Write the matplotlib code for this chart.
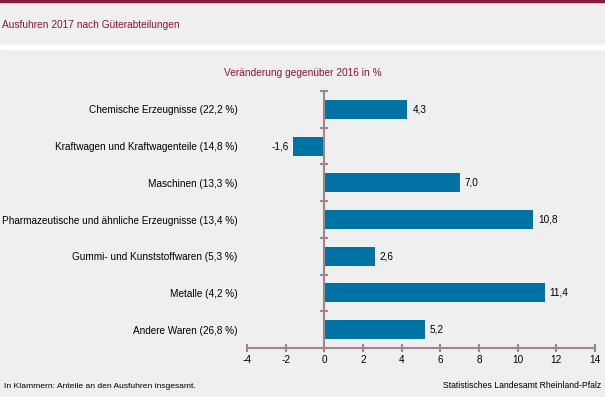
import matplotlib.pyplot as plt
from matplotlib.patches import Rectangle
from matplotlib.ticker import FixedLocator

plt.rcParams['font.family'] = ['Liberation Sans', 'DejaVu Sans']

# Daten
kategorien = ['Chemische Erzeugnisse (22,2 %)',
              'Kraftwagen und Kraftwagenteile (14,8 %)',
              'Maschinen (13,3 %)',
              'Pharmazeutische und ähnliche Erzeugnisse (13,4 %)',
              'Gummi- und Kunststoffwaren (5,3 %)',
              'Metalle (4,2 %)',
              'Andere Waren (26,8 %)']
veraenderung = [4.3, -1.6, 7.0, 10.8, 2.6, 11.4, 5.2]
x_ticks = [-4, -2, 0, 2, 4, 6, 8, 10, 12, 14]

hintergrund = '#eeefee'
balken_farbe = '#0072a3'
achsen_farbe = '#a0868c'
titel_farbe = '#8a1538'

fig = plt.figure(figsize=(6.05, 3.97), dpi=100, facecolor=hintergrund)

# Rahmen oben und weisse Trennlinie
fig.patches.append(Rectangle((0, 1 - 2 / 397), 1, 2 / 397, transform=fig.transFigure,
                             color='#8b1a3a', zorder=0))
fig.patches.append(Rectangle((0, 1 - 49 / 397), 1, 4 / 397, transform=fig.transFigure,
                             color='white', zorder=0))

fig.text(2 / 605, 1 - 25 / 397, 'Ausfuhren 2017 nach Güterabteilungen',
         color=titel_farbe, fontsize=7.3, va='center', ha='left')
fig.text(303 / 605, 1 - 73 / 397, 'Veränderung gegenüber 2016 in %',
         color=titel_farbe, fontsize=7.3, va='center', ha='center')
fig.text(4 / 605, 1 - 386 / 397, 'In Klammern: Anteile an den Ausfuhren insgesamt.',
         color='black', fontsize=6.1, va='center', ha='left')
fig.text(601 / 605, 1 - 386 / 397, 'Statistisches Landesamt Rheinland-Pfalz',
         color='black', fontsize=6.2, va='center', ha='right')

ax = fig.add_axes([247 / 605, 1 - 348 / 397, 348 / 605, 257 / 397])
ax.set_facecolor(hintergrund)

pos = list(range(len(kategorien)))
ax.barh(pos, veraenderung, height=0.52, color=balken_farbe, zorder=2)

for p, v in zip(pos, veraenderung):
    text = f'{v:.1f}'.replace('.', ',')
    if v >= 0:
        ax.annotate(text, (v, p), xytext=(3.5, 0), textcoords='offset points',
                    ha='left', va='center', fontsize=7.2)
    else:
        ax.annotate(text, (v, p), xytext=(-3, 0), textcoords='offset points',
                    ha='right', va='center', fontsize=7.2)

ax.set_xlim(-4, 14)
ax.set_ylim(len(kategorien) - 0.5, -0.5)
ax.set_xticks(x_ticks)
ax.set_xticklabels([str(t) for t in x_ticks])

ax.set_yticks(pos)
ax.set_yticklabels(kategorien)
ax.yaxis.set_minor_locator(FixedLocator([i - 0.5 for i in range(len(kategorien) + 1)]))

for s in ['top', 'left']:
    ax.spines[s].set_visible(False)
ax.spines['right'].set_position(('data', 0))
ax.spines['right'].set_color(achsen_farbe)
ax.spines['right'].set_linewidth(1.5)
ax.spines['right'].set_zorder(3)
ax.spines['bottom'].set_color(achsen_farbe)
ax.spines['bottom'].set_linewidth(1.5)

ax.tick_params(axis='y', which='major', left=False, right=False, labelleft=True,
               labelright=False, labelsize=7.2, pad=3.5)
ax.tick_params(axis='y', which='minor', left=False, right=True, direction='inout',
               length=6, width=1.5, color=achsen_farbe)
ax.tick_params(axis='x', direction='inout', length=6, width=1.5, color=achsen_farbe,
               labelsize=7.2, pad=2)

fig.savefig('out.png', dpi=100, facecolor=hintergrund)
